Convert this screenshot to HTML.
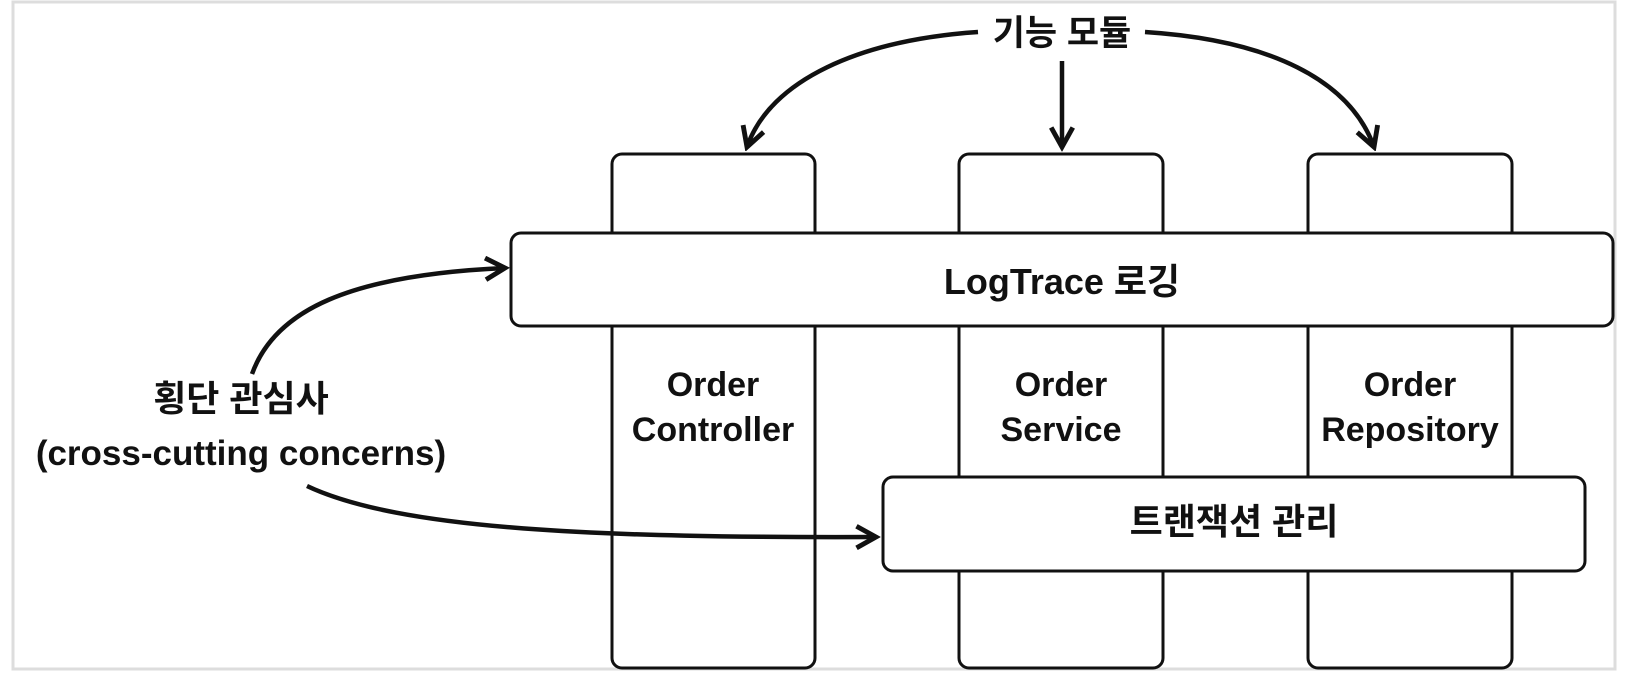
<!DOCTYPE html>
<html><head><meta charset="utf-8"><style>
html,body{margin:0;padding:0;background:#fff}
svg{display:block}
text{font-family:"Liberation Sans","Noto Sans CJK KR",sans-serif;font-size:36px;fill:#111;text-anchor:middle;font-weight:bold}
</style></head><body>
<svg width="1632" height="676" viewBox="0 0 1632 676" xmlns="http://www.w3.org/2000/svg">
<defs>
<marker id="b" viewBox="0 0 24 24" markerWidth="26" markerHeight="26" refX="20" refY="12" orient="auto" markerUnits="userSpaceOnUse"><path d="M2,2 L20,12 L2,22" fill="none" stroke="#111" stroke-width="4.5"/></marker></defs>
<rect x="13" y="2" width="1602" height="667" fill="#fff" stroke="#ddd" stroke-width="3"/>
<g fill="#fff" stroke="#111" stroke-width="3">
<rect x="612" y="154" width="203" height="514" rx="10"/>
<rect x="959" y="154" width="204" height="514" rx="10"/>
<rect x="1308" y="154" width="204" height="514" rx="10"/>
<rect x="511" y="233" width="1102" height="93" rx="10"/>
<rect x="883" y="477" width="702" height="94" rx="10"/>
</g>
<text x="1062" y="45" style="font-size:35px">기능 모듈</text>
<text x="1062" y="294">LogTrace 로깅</text>
<text x="713" y="396" style="font-size:34px">Order</text>
<text x="713" y="441" style="font-size:34px">Controller</text>
<text x="1061" y="396" style="font-size:34px">Order</text>
<text x="1061" y="441" style="font-size:34px">Service</text>
<text x="1410" y="396" style="font-size:34px">Order</text>
<text x="1410" y="441" style="font-size:34px">Repository</text>
<text x="1234" y="534">트랜잭션 관리</text>
<text x="241" y="411">횡단 관심사</text>
<text x="241" y="465" style="font-size:35px">(cross-cutting concerns)</text>
<g fill="none" stroke="#111" stroke-width="4.5" marker-end="url(#b)">
<path d="M978,32 C860,40 770,80 747,147"/>
<path d="M1062,61 L1062,147"/>
<path d="M1145,32 C1270,40 1350,80 1374,147"/>
<path d="M252,374 C275,310 350,275 505,268"/>
<path d="M307,486 C400,530 600,538 876,537"/>
</g>
</svg>
</body></html>
